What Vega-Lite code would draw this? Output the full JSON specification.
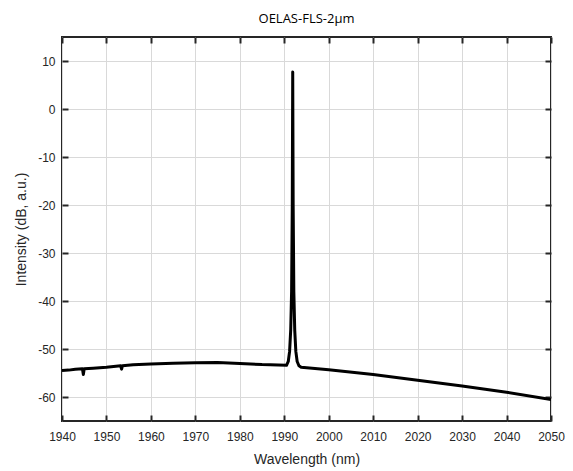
{
  "$schema": "https://vega.github.io/schema/vega-lite/v6.json",
  "width": 489,
  "height": 384,
  "autosize": {"type": "none"},
  "padding": {"left": 62, "top": 37, "right": 22, "bottom": 50},
  "background": "white",
  "title": {
    "text": "OELAS-FLS-2μm",
    "font": "Open Sans",
    "fontSize": 13,
    "fontWeight": "normal",
    "color": "#000000",
    "offset": 10
  },
  "data": {
    "values": [
      {"wl": 1940.0, "db": -54.5},
      {"wl": 1941.5, "db": -54.4},
      {"wl": 1943.0, "db": -54.2},
      {"wl": 1944.6, "db": -54.1},
      {"wl": 1944.8, "db": -55.3},
      {"wl": 1945.0, "db": -54.1},
      {"wl": 1947.0, "db": -54.0},
      {"wl": 1950.0, "db": -53.8},
      {"wl": 1953.2, "db": -53.5},
      {"wl": 1953.4, "db": -54.2},
      {"wl": 1953.6, "db": -53.5},
      {"wl": 1956.0, "db": -53.3},
      {"wl": 1960.0, "db": -53.1},
      {"wl": 1965.0, "db": -52.95},
      {"wl": 1970.0, "db": -52.85},
      {"wl": 1975.0, "db": -52.8},
      {"wl": 1980.0, "db": -53.0},
      {"wl": 1985.0, "db": -53.25},
      {"wl": 1990.5, "db": -53.4},
      {"wl": 1990.9, "db": -52.6},
      {"wl": 1991.2, "db": -50.5},
      {"wl": 1991.45, "db": -46.0},
      {"wl": 1991.65, "db": -38.0},
      {"wl": 1991.8, "db": -20.0},
      {"wl": 1991.9, "db": 7.7},
      {"wl": 1992.0, "db": -20.0},
      {"wl": 1992.15, "db": -38.0},
      {"wl": 1992.35, "db": -46.0},
      {"wl": 1992.6, "db": -50.5},
      {"wl": 1992.9, "db": -52.6},
      {"wl": 1993.3, "db": -53.5},
      {"wl": 1993.8, "db": -53.8},
      {"wl": 2000.0, "db": -54.3},
      {"wl": 2010.0, "db": -55.3},
      {"wl": 2020.0, "db": -56.5},
      {"wl": 2030.0, "db": -57.7},
      {"wl": 2040.0, "db": -59.0},
      {"wl": 2050.0, "db": -60.5}
    ]
  },
  "layer": [
    {
      "mark": {"type": "line", "color": "#000000", "strokeWidth": 3, "strokeJoin": "round", "clip": true},
      "encoding": {
        "x": {
          "field": "wl", "type": "quantitative",
          "scale": {"domain": [1940, 2050], "nice": false, "zero": false},
          "axis": {"title": "Wavelength (nm)", "values": [1940,1950,1960,1970,1980,1990,2000,2010,2020,2030,2040,2050], "orient": "bottom", "titlePadding": 10, "labelPadding": 10, "ticks": false, "grid": true, "labelFlush": false, "labelExpr": "'' + datum.value"}
        },
        "y": {
          "field": "db", "type": "quantitative",
          "scale": {"domain": [-65, 15], "nice": false, "zero": false},
          "axis": {"title": "Intensity (dB, a.u.)", "values": [-60,-50,-40,-30,-20,-10,0,10], "orient": "left", "titlePadding": 9, "labelPadding": 7, "ticks": false, "grid": true, "labelFlush": false, "labelExpr": "'' + datum.value"}
        }
      }
    },
    {
      "mark": {"type": "line", "opacity": 0},
      "encoding": {
        "x": {
          "field": "wl", "type": "quantitative",
          "scale": {"domain": [1940, 2050], "nice": false, "zero": false},
          "axis": {"orient": "top", "offset": -384, "title": null, "labels": false, "grid": false, "ticks": true, "tickSize": 6, "tickWidth": 2, "tickColor": "#262626", "values": [1940,1950,1960,1970,1980,1990,2000,2010,2020,2030,2040,2050]}
        },
        "y": {
          "field": "db", "type": "quantitative",
          "scale": {"domain": [-65, 15], "nice": false, "zero": false},
          "axis": {"orient": "right", "offset": -489, "title": null, "labels": false, "grid": false, "ticks": true, "tickSize": 6, "tickWidth": 2, "tickColor": "#262626", "values": [-60,-50,-40,-30,-20,-10,0,10]}
        }
      }
    },
    {
      "mark": {"type": "line", "opacity": 0},
      "encoding": {
        "x": {
          "field": "wl", "type": "quantitative",
          "scale": {"domain": [1940, 2050], "nice": false, "zero": false},
          "axis": {"orient": "bottom", "offset": -384, "title": null, "labels": false, "grid": false, "ticks": true, "tickSize": 6, "tickWidth": 2, "tickColor": "#262626", "values": [1940,1950,1960,1970,1980,1990,2000,2010,2020,2030,2040,2050]}
        },
        "y": {
          "field": "db", "type": "quantitative",
          "scale": {"domain": [-65, 15], "nice": false, "zero": false},
          "axis": {"orient": "left", "offset": -489, "title": null, "labels": false, "grid": false, "ticks": true, "tickSize": 6, "tickWidth": 2, "tickColor": "#262626", "values": [-60,-50,-40,-30,-20,-10,0,10]}
        }
      }
    }
  ],
  "resolve": {"scale": {"x": "independent", "y": "independent"}},
  "config": {
    "view": {"stroke": "#262626", "strokeWidth": 2},
    "axis": {
      "domain": false,
      "gridColor": "#d9d9d9",
      "gridWidth": 1,
      "labelOverlap": false,
      "labelFont": "Liberation Sans",
      "labelFontSize": 12,
      "labelColor": "#262626",
      "titleFont": "Liberation Sans",
      "titleFontSize": 14,
      "titleFontWeight": "normal",
      "titleColor": "#262626"
    }
  }
}
